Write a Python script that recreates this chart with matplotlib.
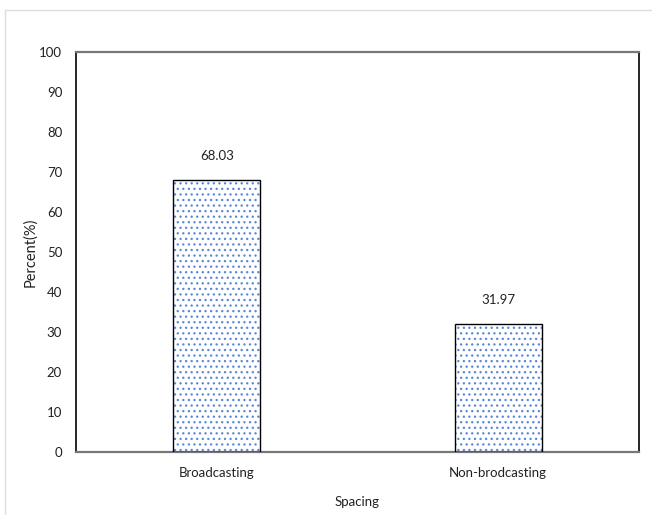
import matplotlib.pyplot as plt
from matplotlib.lines import Line2D

categories = ['Broadcasting', 'Non-brodcasting']
percent = [68.03, 31.97]
yticks = [0, 10, 20, 30, 40, 50, 60, 70, 80, 90, 100]

plt.rcParams['font.family'] = ['Lato', 'DejaVu Sans']
plt.rcParams['hatch.linewidth'] = 0.9

fig = plt.figure(figsize=(6.52, 5.15), dpi=100)
ax = fig.add_axes([0.1166, 0.1223, 0.8634, 0.7767])

x = range(len(categories))
# dotted fill in blue, then a plain black outline on top
ax.bar(x, percent, width=0.31, color='white', edgecolor='#5a88d6',
       hatch='...', linewidth=0, zorder=2)
ax.bar(x, percent, width=0.31, color='none', edgecolor='black',
       linewidth=1.0, zorder=3)

for xi, v in zip(x, percent):
    ax.annotate(f'{v:.2f}', (xi, v), xytext=(0, 13), textcoords='offset points',
                ha='center', va='bottom', fontsize=9.5, color='#222222')

ax.set_xlim(-0.5, 1.5)
ax.set_ylim(0, 100)
ax.set_yticks(yticks)
ax.set_xticks(list(x))
ax.set_xticklabels(categories)
ax.tick_params(length=0, labelsize=9.5, colors='#222222')
ax.tick_params(axis='y', pad=10)
ax.tick_params(axis='x', pad=11)

for side in ['left', 'right']:
    ax.spines[side].set_color('black')
    ax.spines[side].set_linewidth(1.2)
for side in ['top', 'bottom']:
    ax.spines[side].set_color('#777777')
    ax.spines[side].set_linewidth(1.6)

ax.set_xlabel('Spacing', fontsize=9.5, color='#222222', labelpad=12)
ax.set_ylabel('Percent(%)', fontsize=10.5, color='#222222', labelpad=1)

# thin grey frame around the whole chart area
fig.add_artist(Line2D([5 / 652, 5 / 652], [0, 1 - 10 / 515], color='#dddddd', lw=1))
fig.add_artist(Line2D([5 / 652, 1], [1 - 10 / 515, 1 - 10 / 515], color='#dddddd', lw=1))

fig.savefig('out.png', dpi=100)
